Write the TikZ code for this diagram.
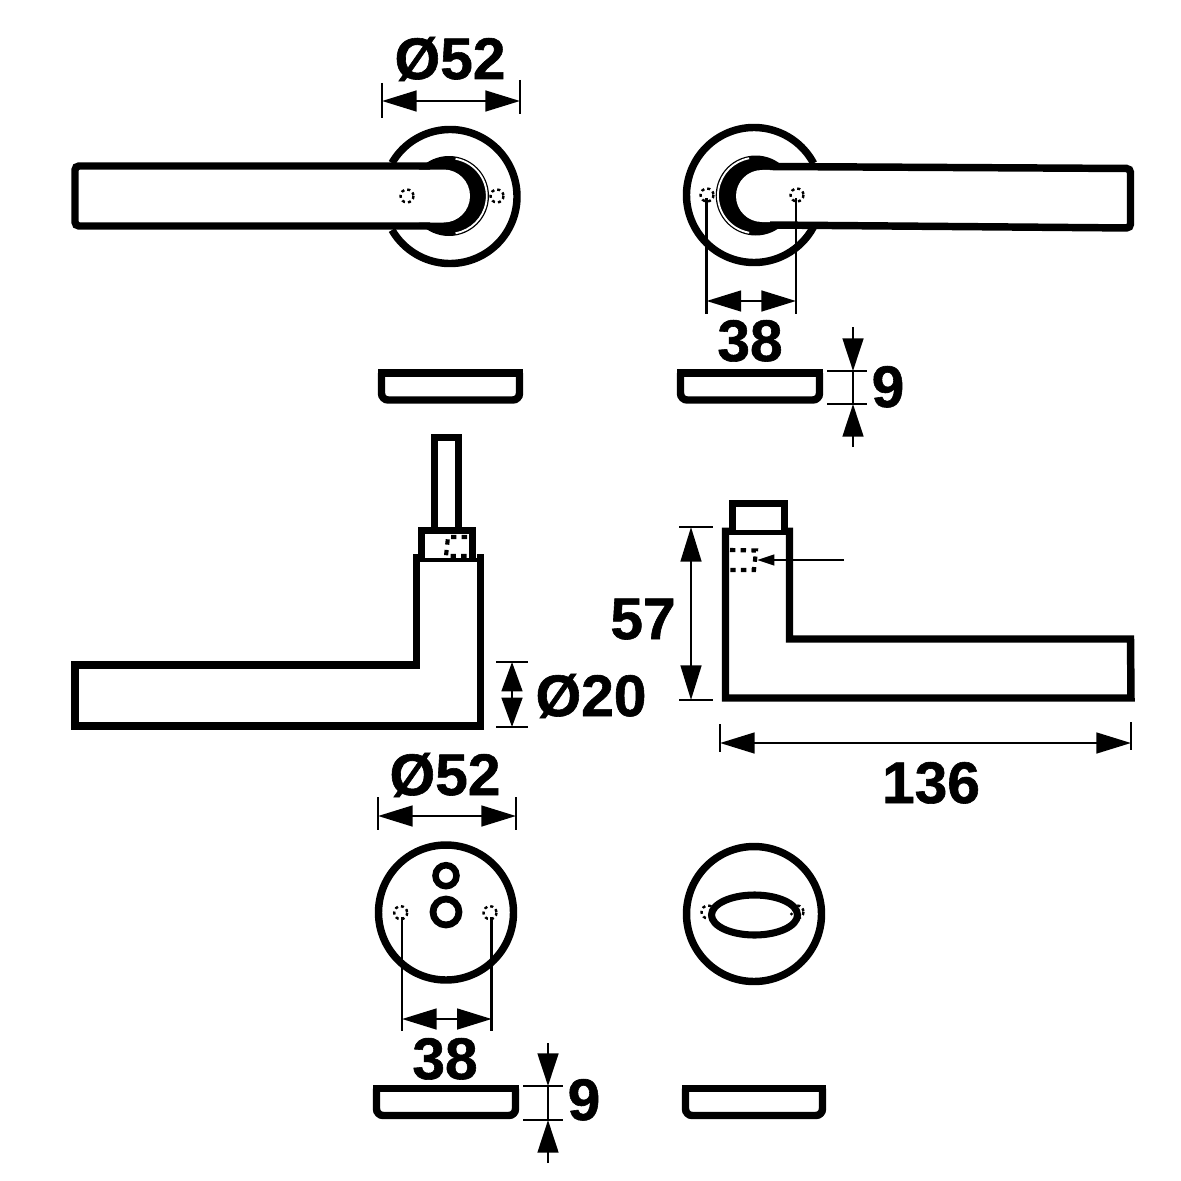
\documentclass[tikz,border=0pt]{standalone}
\usepackage{fontspec}
\setmainfont{Liberation Sans}
\newfontfamily\dimfont{Liberation Sans}[BoldFeatures={FakeBold=1.0}]
\usetikzlibrary{arrows.meta}
\tikzset{
  x=0.75pt,y=-0.75pt,
  heavy/.style={line width=5.6pt,line join=miter,line cap=butt},
  seam/.style={line width=3.2pt},
  extline/.style={line width=2pt},
  dimboth/.style={line width=2pt,{Triangle[length=26pt,width=15.5pt]}-{Triangle[length=26pt,width=15.5pt]}},
  dimone/.style={line width=2pt,-{Triangle[length=24.5pt,width=15.5pt]}},
  hidden/.style={line width=1.8pt,dash pattern=on 2.3pt off 2.3pt},
  hiddenbold/.style={line width=3.1pt,dash pattern=on 4pt off 4pt},
  label/.style={font=\dimfont\fontsize{44}{44}\selectfont\bfseries,anchor=base,inner sep=0pt,text=black},
}
\begin{document}
\begin{tikzpicture}
\useasboundingbox[fill=white] (0,0) rectangle (1181,1181);

% ---------- top-left rose and lever
\coordinate (rtl) at (450,196.5);
\draw[heavy] (rtl) ++(210:67) arc[start angle=210,end angle=510,radius=67];
\coordinate (ctl) at (449,196);
\fill (ctl) circle[radius=40];
\draw[white,line width=1.4pt] (ctl) ++(-80:37.8) arc[start angle=-80,end angle=80,radius=37.8];
\fill[white] (78,169.5) -- (443.5,169.5) arc[start angle=-90,end angle=90,radius=26.5] -- (78,222.5) -- cycle;
\draw[heavy,rounded corners=3pt] (430,166) -- (75,166) -- (75,226) -- (430,226);
\draw[hidden] (407,196) circle[radius=6.5];
\draw[hidden] (497,196) circle[radius=6.5];

% ---------- top-right rose and lever
\coordinate (rtr) at (754,195);
\draw[heavy] (rtr) ++(-28:67.5) arc[start angle=-28,end angle=-332,radius=67.5];
\coordinate (ctr) at (755.7,195.5);
\fill (ctr) circle[radius=40];
\draw[white,line width=1.4pt] (ctr) ++(100:37.8) arc[start angle=100,end angle=260,radius=37.8];
\fill[white] (1127,168.5) -- (762,170) arc[start angle=-90,end angle=-270,radius=26] -- (1127,225) -- cycle;
\draw[heavy,rounded corners=3pt] (770,166.5) -- (1130.5,168.5) -- (1130.5,228) -- (770,225);
\draw[hidden] (707,195) circle[radius=6.5];
\draw[hidden] (797,195) circle[radius=6.5];

% ---------- dim: top O52
\coordinate (a1) at (382,101); \coordinate (a2) at (520,101);
\draw[extline] (382,83) -- (382,118);
\draw[extline] (520,80) -- (520,114);
\draw[dimboth] (a1) -- (a2);
\node[label] (t1) at (450,79) {Ø52};

% ---------- dim: top 38
\coordinate (b1) at (706.5,301); \coordinate (b2) at (796,301);
\draw[extline] (706.5,198) -- (706.5,314);
\draw[extline] (796,198) -- (796,314);
\draw[dimboth] (b1) -- (b2);
\node[label] (t2) at (750,361) {38};

% ---------- plates row 1
\draw[heavy,rounded corners=5pt] (381.5,373) -- (381.5,400) -- (519.5,400) -- (519.5,373);
\draw[heavy] (378,373) -- (523,373);
\draw[heavy,rounded corners=5pt] (680.5,373) -- (680.5,400) -- (819.5,400) -- (819.5,373);
\draw[heavy] (677,373) -- (823,373);

% ---------- dim: top 9
\coordinate (c1) at (853,327); \coordinate (c2) at (853,371);
\coordinate (c3) at (853,447); \coordinate (c4) at (853,404);
\draw[extline] (827,371) -- (867,371);
\draw[extline] (827,404) -- (867,404);
\draw[extline] (c2) -- (c4);
\draw[dimone] (c1) -- (c2);
\draw[dimone] (c3) -- (c4);
\node[label] (t3) at (888,407) {9};

% ---------- left side view
\draw[heavy] (434.5,530) -- (434.5,437.5) -- (458.5,437.5) -- (458.5,530);
\draw[heavy] (421.5,558) -- (421.5,530.5) -- (472.5,530.5) -- (472.5,558);
\draw[seam] (417,560) -- (480,560);
\draw[heavy] (416.5,554) -- (416.5,665) -- (75,665) -- (75,726) -- (480.5,726) -- (480.5,554);
\draw[heavy] (72,665) -- (80,665);
\draw[hiddenbold] (467,537) -- (448,537) -- (446,556) -- (468,556);

% ---------- right side view
\draw[heavy] (732.5,531) -- (732.5,503.5) -- (784.5,503.5) -- (784.5,531);
\draw[seam] (726,532.5) -- (789,532.5);
\draw[heavy] (725.5,527.5) -- (725.5,698) -- (1131,698) -- (1130.5,639) -- (789.5,639) -- (789.5,527.5);
\draw[hiddenbold] (730,550) -- (756,550.5) -- (754,570) -- (730,570);
\coordinate (e1) at (844,560); \coordinate (e2) at (757,560);
\draw[line width=1.7pt,-{Triangle[length=13pt,width=8pt]}] (e1) -- (e2);

% ---------- dim: 57
\coordinate (f1) at (691,527); \coordinate (f2) at (691,700);
\draw[extline] (679,527) -- (713,527);
\draw[extline] (679,700) -- (713,700);
\draw[dimboth] (f1) -- (f2);
\node[label] (t4) at (643,639) {57};

% ---------- dim: O20
\coordinate (g1) at (512,662); \coordinate (g2) at (512,727);
\draw[extline] (496,662) -- (528,662);
\draw[extline] (496,727) -- (528,727);
\draw[line width=2pt,{Triangle[length=22pt,width=15.5pt]}-{Triangle[length=22pt,width=15.5pt]}] (g1) -- (g2);
\node[label] (t5) at (591,716) {Ø20};

% ---------- dim: 136
\coordinate (h1) at (720,743); \coordinate (h2) at (1131,743);
\draw[extline] (720,724) -- (720,752);
\draw[extline] (1131,722) -- (1131,750);
\draw[dimboth] (h1) -- (h2);
\node[label] (t6) at (931,803) {136};

% ---------- dim: lower O52
\coordinate (i1) at (378,816); \coordinate (i2) at (516,816);
\draw[extline] (378,797) -- (378,830);
\draw[extline] (516,797) -- (516,830);
\draw[dimboth] (i1) -- (i2);
\node[label] (t7) at (445,795) {Ø52};

% ---------- lower-left rose
\draw[heavy] (446,912.5) circle[radius=67.5];
\draw[line width=4.9pt] (446,875.7) circle[radius=10.5];
\draw[line width=5.1pt] (446,912) circle[radius=13];
\draw[hidden] (400.7,912.7) circle[radius=6.5];
\draw[hidden] (490,912.7) circle[radius=6.5];
\coordinate (j1) at (402,1019); \coordinate (j2) at (491.7,1019);
\draw[extline] (402,917) -- (402,1031);
\draw[extline] (491.7,917) -- (491.7,1031);
\draw[dimboth] (j1) -- (j2);
\node[label] (t8) at (445,1079) {38};

% ---------- lower-right rose
\draw[heavy] (754,914) circle[radius=67.5];
\draw[hidden] (708,912) circle[radius=6.5];
\draw[hidden] (797,912) circle[radius=6.5];
\draw[line width=5.3pt,fill=white] (754.5,915) ellipse[x radius=43,y radius=20];
\fill (791.5,914) circle[radius=1.7];

% ---------- plates row 3
\draw[heavy,rounded corners=5pt] (376.5,1088.5) -- (376.5,1115.5) -- (515.5,1115.5) -- (515.5,1088.5);
\draw[heavy] (373,1088.5) -- (519,1088.5);
\draw[heavy,rounded corners=5pt] (685.5,1088.5) -- (685.5,1115.5) -- (822.5,1115.5) -- (822.5,1088.5);
\draw[heavy] (682,1088.5) -- (826,1088.5);

% ---------- dim: lower 9
\coordinate (k1) at (548,1043); \coordinate (k2) at (548,1086);
\coordinate (k3) at (548,1163); \coordinate (k4) at (548,1120);
\draw[extline] (523,1086) -- (563,1086);
\draw[extline] (523,1120) -- (563,1120);
\draw[extline] (k2) -- (k4);
\draw[dimone] (k1) -- (k2);
\draw[dimone] (k3) -- (k4);
\node[label] (t9) at (584,1120) {9};
\end{tikzpicture}
\end{document}
